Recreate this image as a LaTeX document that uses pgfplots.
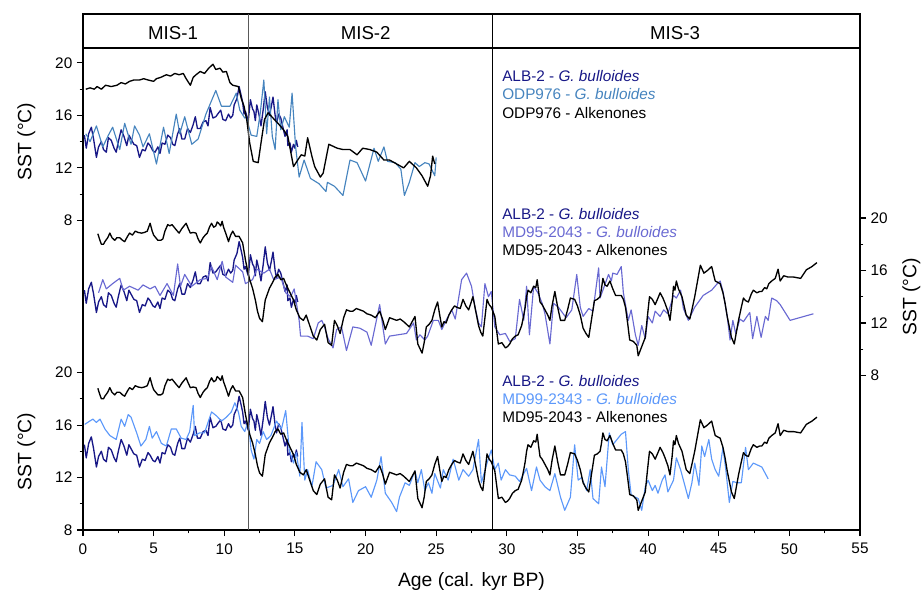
\documentclass[border=0pt]{standalone}
\usepackage{fontspec}
\setmainfont{Liberation Sans}
\usepackage{pgfplots}
\usepackage{pgfplotstable}
\pgfplotsset{compat=1.18}

\definecolor{albnavy}{RGB}{24,24,135}
\definecolor{odpblue}{RGB}{70,132,190}
\definecolor{mdslate}{RGB}{105,105,210}
\definecolor{mdlight}{RGB}{92,152,250}

% ALB-2 G. bulloides (same record in all three panels)
\pgfplotstableread{
x y
0.1 14.5
0.23 13.5
0.4 14.6
0.59 15.1
0.75 14.2
0.95 12.8
1.1 13.6
1.3 14.0
1.45 13.4
1.65 13.2
1.8 14.3
2.0 14.1
2.2 13.5
2.35 13.2
2.5 14.0
2.7 14.9
2.9 14.4
3.1 13.7
3.25 14.5
3.4 14.2
3.6 13.8
3.8 13.7
4.0 12.8
4.2 13.4
4.4 13.3
4.6 13.9
4.75 13.7
4.95 13.3
5.1 13.2
5.3 13.6
5.45 13.1
5.6 13.9
5.8 13.8
6.0 14.5
6.2 14.3
6.35 13.8
6.5 13.7
6.7 14.6
6.85 15.0
7.0 14.2
7.2 14.2
7.4 15.0
7.6 14.7
7.8 15.3
7.95 15.9
8.1 15.0
8.3 15.0
8.5 15.5
8.7 15.6
8.85 15.2
9.0 16.6
9.2 15.8
9.4 15.9
9.6 16.2
9.75 16.4
9.9 15.7
10.1 15.6
10.3 16.1
10.45 15.8
10.6 16.0
10.7 16.8
10.9 17.3
11.05 18.2
11.2 17.5
11.3 17.0
11.4 16.1
11.5 16.3
11.7 15.6
11.85 17.2
12.0 16.5
12.1 16.3
12.2 15.6
12.3 16.8
12.45 16.1
12.6 15.2
12.75 16.4
12.9 17.8
13.05 16.6
13.2 16.0
13.35 16.8
13.45 17.4
13.6 16.0
13.7 15.4
13.85 16.1
14.0 15.8
14.15 15.1
14.3 14.4
14.45 14.9
14.5 13.7
14.65 13.9
14.75 13.2
14.9 13.8
15.0 13.5
15.1 14.1
15.2 13.6
}\albtwo

% MD95-2043 alkenones (middle and bottom panels)
\pgfplotstableread{
x y
1.05 18.8
1.2 18.3
1.3 18.0
1.45 18.0
1.55 18.2
1.75 18.5
1.9 18.85
2.05 18.5
2.25 18.3
2.4 18.5
2.6 18.5
2.8 18.3
2.95 18.2
3.15 18.6
3.3 18.85
3.5 18.7
3.7 19.0
3.9 18.9
4.15 18.85
4.35 18.9
4.55 19.0
4.75 19.6
4.9 19.0
5.0 18.7
5.15 18.5
5.3 18.3
5.5 18.3
5.65 18.4
5.8 19.0
6.0 19.5
6.15 19.4
6.3 19.5
6.45 19.3
6.6 19.1
6.8 18.85
7.0 19.2
7.15 19.4
7.3 19.6
7.45 19.2
7.6 18.85
7.8 18.9
8.0 18.85
8.15 18.4
8.3 18.1
8.5 18.5
8.65 18.7
8.8 18.85
8.95 19.3
9.1 19.6
9.25 19.3
9.4 19.4
9.5 19.7
9.6 19.6
9.75 19.4
9.85 19.75
9.95 19.3
10.1 18.85
10.3 18.2
10.45 18.7
10.6 19.0
10.8 18.6
11.05 18.6
11.3 18.1
11.5 16.8
11.65 16.0
11.8 15.3
12.0 14.65
12.2 13.75
12.35 12.9
12.5 12.35
12.7 12.1
12.9 13.75
13.05 14.2
13.2 14.65
13.45 15.15
13.6 15.5
13.8 15.7
14.0 15.3
14.2 15.4
14.35 15.0
14.5 14.65
14.7 14.2
14.9 13.75
15.1 13.0
15.35 12.4
15.6 12.2
15.8 12.6
16.05 11.8
16.3 11.0
16.55 10.7
16.8 11.5
17.1 11.9
17.35 10.5
17.6 10.3
17.8 12.2
18.0 11.8
18.2 11.2
18.45 12.4
18.65 13.0
18.9 12.9
19.1 12.9
19.35 13.1
19.6 13.0
19.85 12.9
20.1 12.7
20.4 12.6
20.7 12.4
21.0 12.9
21.2 12.3
21.4 11.5
21.7 12.4
21.95 12.3
22.2 12.2
22.45 12.3
22.7 12.1
22.9 11.9
23.1 11.7
23.3 12.1
23.5 12.5
23.7 10.4
24.0 9.7
24.15 10.5
24.3 11.7
24.5 11.9
24.7 12.2
24.9 13.0
25.1 13.6
25.25 12.6
25.4 11.7
25.55 12.1
25.7 12.0
25.9 12.6
26.1 13.0
26.3 13.3
26.45 13.2
26.7 13.1
26.9 13.8
27.1 13.3
27.3 13.0
27.45 13.5
27.6 14.0
27.8 12.9
28.0 11.8
28.15 11.3
28.3 11.0
28.45 12.4
28.6 13.8
28.75 13.4
28.9 13.2
29.15 12.5
29.4 10.4
29.65 10.5
29.9 10.1
30.05 10.2
30.2 10.4
30.4 10.8
30.6 11.0
30.8 11.1
31.05 11.8
31.2 12.6
31.3 13.2
31.4 14.0
31.5 14.5
31.7 14.3
31.9 14.8
32.05 14.7
32.15 15.3
32.25 14.4
32.35 13.6
32.5 13.4
32.7 13.0
32.9 12.6
33.05 12.2
33.2 13.3
33.4 14.4
33.6 13.2
33.8 12.2
34.1 12.2
34.3 13.0
34.5 13.9
34.8 13.8
35.0 13.3
35.2 12.6
35.4 11.6
35.6 11.2
35.8 10.9
36.0 12.3
36.2 13.7
36.4 13.8
36.6 14.0
36.7 14.6
36.8 15.4
36.95 14.9
37.1 14.8
37.3 15.2
37.5 14.6
37.7 14.1
38.1 14.1
38.25 13.8
38.4 13.2
38.55 12.0
38.7 10.7
38.95 10.6
39.2 10.3
39.3 9.5
39.55 10.2
39.8 10.9
39.95 12.5
40.1 14.0
40.3 13.8
40.5 13.4
40.7 13.9
40.85 14.3
41.05 13.9
41.2 13.5
41.4 12.9
41.55 12.2
41.7 13.6
41.8 14.8
41.9 14.5
42.0 15.2
42.15 14.6
42.4 14.0
42.55 13.3
42.7 12.6
42.95 12.3
43.1 13.0
43.3 14.0
43.5 15.2
43.7 16.4
43.95 15.8
44.2 16.0
44.5 16.3
44.75 15.2
45.1 15.0
45.3 14.3
45.45 13.5
45.6 12.5
45.9 10.9
46.1 10.4
46.25 11.3
46.4 12.2
46.6 13.2
46.75 13.9
46.9 13.7
47.1 13.6
47.3 14.2
47.45 14.5
47.7 14.3
47.9 14.4
48.05 14.4
48.25 14.7
48.4 14.6
48.55 15.0
48.75 15.2
49.0 15.4
49.2 16.1
49.35 15.2
49.6 15.6
49.9 15.5
50.3 15.5
50.8 15.4
51.2 16.05
51.6 16.3
51.95 16.6
}\mdalk

% ODP976 alkenones
\pgfplotstableread{
x y
0.2 18.0
0.5 18.1
0.8 18.0
1.0 18.2
1.3 18.0
1.6 18.3
2.0 18.2
2.4 18.3
2.7 18.5
3.0 18.4
3.3 18.6
3.6 18.7
4.0 18.7
4.3 18.8
4.6 18.7
5.0 18.6
5.2 18.8
5.5 18.9
5.9 19.1
6.2 19.0
6.5 19.2
6.8 19.1
7.1 19.2
7.3 18.8
7.6 18.3
7.8 18.9
8.0 19.1
8.3 19.35
8.6 19.2
8.9 19.6
9.2 19.9
9.4 19.5
9.7 19.6
9.9 19.3
10.15 19.35
10.4 18.5
10.6 18.3
11.0 18.2
11.2 17.3
11.4 16.7
11.6 15.6
11.8 13.9
12.05 12.5
12.4 12.4
12.6 13.9
12.85 15.7
13.1 16.2
13.45 15.8
13.8 15.4
14.2 14.9
14.5 14.4
14.9 12.1
15.2 12.6
15.45 13.0
15.7 12.9
15.9 14.3
16.2 12.9
16.4 12.1
16.8 11.3
17.0 11.6
17.4 13.8
18.0 13.5
18.4 13.4
18.9 13.4
19.4 13.0
19.8 13.5
20.3 13.4
20.8 13.2
21.3 12.6
21.7 12.6
22.2 12.3
22.7 12.0
23.1 12.5
23.6 12.0
24.0 11.4
24.4 10.6
24.6 11.4
24.75 12.9
24.9 12.3
}\odpalk

% ODP976 G. bulloides
\pgfplotstableread{
x y
0.2 14.6
0.5 14.0
0.95 15.2
1.4 13.6
1.8 14.5
2.1 15.1
2.6 13.4
2.95 15.4
3.4 13.8
3.65 15.2
4.0 14.5
4.25 13.6
4.7 14.6
5.2 12.3
5.7 15.1
6.1 13.1
6.6 16.1
6.85 14.6
7.2 15.9
7.7 13.8
8.15 14.2
8.7 16.1
9.4 17.9
9.8 16.7
10.4 16.7
10.85 17.7
11.1 16.4
11.45 15.8
11.55 15.9
11.9 14.5
12.3 14.4
12.55 16.2
12.8 18.7
13.0 14.6
13.2 17.4
13.4 14.4
13.6 13.4
13.8 17.2
14.0 14.9
14.25 15.9
14.6 15.1
14.8 17.7
15.05 13.6
15.3 11.3
15.65 12.6
16.1 11.2
16.7 10.8
17.2 10.2
17.3 10.9
17.8 10.6
18.4 9.9
18.9 12.6
19.4 12.4
20.0 11.0
20.6 13.5
20.9 12.5
21.3 13.6
21.55 12.5
22.1 12.4
22.5 11.9
22.75 9.9
23.1 10.9
23.5 12.4
23.8 12.1
24.2 12.4
24.5 12.3
24.9 11.4
25.0 12.8
}\odpbul

% MD95-2043 G. bulloides
\pgfplotstableread{
x y
1.1 14.3
1.4 15.3
1.65 14.6
2.1 15.0
2.6 15.4
2.85 14.5
3.3 14.8
3.9 14.5
4.25 14.9
4.75 14.6
5.1 14.8
5.45 14.1
5.95 15.0
6.4 14.1
6.7 16.5
6.9 14.8
7.2 15.7
7.7 14.8
8.3 15.3
8.8 15.4
9.1 16.3
9.5 15.3
9.85 16.7
10.1 15.5
10.6 15.1
10.8 16.4
11.3 15.9
11.5 15.0
12.0 15.3
12.3 16.1
12.8 15.8
13.2 16.1
13.5 15.3
14.0 15.5
14.35 14.3
14.7 14.0
14.95 14.6
15.3 12.2
15.4 11.0
15.9 11.0
16.3 10.8
16.65 12.0
16.9 12.2
17.1 11.7
17.35 10.8
17.7 10.1
17.95 11.5
18.3 11.7
18.65 9.9
19.1 11.7
19.6 11.6
20.1 11.3
20.4 10.3
21.0 13.4
21.4 10.4
21.7 11.0
22.9 11.2
23.4 12.0
23.6 10.7
23.85 11.1
24.2 10.7
24.4 11.0
24.8 12.2
25.15 12.2
25.4 11.5
25.7 12.2
26.1 13.0
26.35 12.3
26.8 15.3
27.15 15.8
27.5 14.8
27.75 13.2
28.0 12.0
28.2 11.7
28.45 15.0
28.7 14.0
28.9 14.4
29.15 11.7
29.5 11.1
29.9 11.2
30.2 10.6
30.6 10.8
30.9 13.8
31.2 12.2
31.4 14.8
31.6 11.1
31.9 14.8
32.2 14.3
32.5 13.5
32.7 12.7
33.05 10.4
33.3 13.5
33.65 13.2
34.2 12.4
34.6 13.0
34.95 15.7
35.2 13.2
35.4 12.5
35.8 13.1
36.1 12.9
36.5 16.2
36.6 13.9
36.8 14.5
37.2 15.7
37.4 15.2
37.5 15.8
37.8 15.7
38.1 16.3
38.25 14.3
38.6 12.2
38.8 13.0
39.1 11.1
39.3 10.3
39.55 11.8
39.8 10.8
40.0 12.5
40.3 12.0
40.5 12.9
40.85 12.5
41.1 13.0
41.4 12.7
41.8 14.1
42.0 13.9
42.3 14.5
42.5 13.1
42.85 12.2
43.3 13.2
43.9 14.1
44.5 14.5
44.9 15.0
45.1 15.2
45.3 14.4
45.6 12.5
45.8 10.7
46.0 12.2
46.2 11.2
46.5 12.3
46.75 12.1
47.0 12.5
47.2 12.8
47.4 10.8
47.7 12.5
48.0 10.9
48.3 12.5
48.5 12.2
48.75 13.9
49.1 13.7
49.35 13.4
50.05 12.2
51.7 12.7
}\mdbul

% MD99-2343 G. bulloides
\pgfplotstableread{
x y
0.12 16.05
0.47 16.3
0.7 16.45
0.95 16.2
1.2 16.45
1.55 15.7
1.9 15.2
2.35 14.9
2.7 16.45
2.95 15.9
3.2 16.8
3.4 16.6
3.8 15.4
4.1 14.4
4.45 14.9
4.7 15.9
4.9 15.0
5.2 15.5
5.55 14.6
5.9 14.4
6.25 15.7
6.6 15.7
6.95 15.0
7.3 14.9
7.55 15.5
7.8 17.5
7.9 15.2
8.25 15.4
8.6 15.4
9.1 17.0
9.45 16.7
9.8 16.3
10.15 16.6
10.5 17.0
10.75 17.7
11.0 17.0
11.2 15.9
11.45 15.5
11.7 16.3
11.9 14.1
12.1 13.4
12.3 14.9
12.5 14.6
12.75 15.5
13.0 14.9
13.3 15.2
13.7 16.3
14.05 15.7
14.35 17.1
14.6 14.1
14.9 13.1
15.1 13.9
15.35 12.1
15.5 16.2
15.7 11.8
15.9 12.6
16.2 11.3
16.5 13.2
16.9 12.6
17.2 11.2
17.7 11.4
18.1 12.6
18.4 11.3
18.8 11.9
19.1 10.1
19.5 11.0
20.0 11.3
20.4 10.5
20.8 11.8
21.1 13.6
21.4 10.8
21.85 10.1
22.2 9.4
22.4 10.5
22.8 11.6
23.1 11.4
23.5 12.5
23.7 11.6
23.95 12.6
24.2 11.0
24.45 11.6
24.7 10.8
24.9 12.3
25.3 11.2
25.5 12.6
25.85 11.8
26.2 13.4
26.6 11.8
26.9 12.6
27.3 12.1
27.6 12.6
28.0 14.9
28.2 11.6
28.6 13.1
28.9 14.1
29.15 12.6
29.4 13.1
29.6 11.8
29.9 12.6
30.2 12.2
30.6 12.1
30.9 11.7
31.4 12.7
31.75 11.0
32.1 12.8
32.35 11.8
32.7 11.3
33.05 11.0
33.4 12.3
33.8 10.5
34.1 9.5
34.5 10.5
34.8 14.5
35.05 11.8
35.3 12.0
35.65 11.0
35.9 12.6
36.1 10.4
36.5 10.0
36.7 12.8
36.95 11.3
37.25 15.4
37.5 14.5
37.8 14.9
38.1 15.3
38.4 15.5
38.6 12.6
38.8 10.7
39.1 10.5
39.3 10.4
39.55 9.5
39.8 11.3
40.0 11.8
40.3 11.0
40.5 11.4
40.7 10.8
41.0 11.8
41.2 12.2
41.4 10.9
41.8 11.8
42.0 13.5
42.3 12.6
42.5 11.8
42.85 10.4
43.1 11.6
43.3 13.1
43.6 11.4
43.8 14.4
44.0 13.6
44.3 14.9
44.5 13.4
44.75 12.6
45.0 12.1
45.3 14.3
45.5 12.6
45.75 10.1
46.0 11.7
46.3 11.6
46.6 11.6
46.9 14.3
47.1 12.6
47.45 13.1
48.05 12.8
48.5 11.9
}\mdninenine

\pgfplotsset{
  sstpanel/.style={
    scale only axis, width=582.75pt, height=361.5pt,
    at={(0,0)}, anchor=south west,
    xmin=0, xmax=55,
    ytick={8,12,16,20}, minor y tick num=1,
    tick align=outside,
    major tick length=4.5pt, minor tick length=2.5pt,
    tick style={black, line width=0.8pt},
    axis line style={line width=1pt},
    tick label style={font=\fontsize{11.5}{13}\selectfont},
    label style={font=\fontsize{14.5}{16}\selectfont},
    /pgf/number format/assume math mode=true,
    every axis plot/.append style={line width=0.85pt, line join=round},
  },
}

\newcommand{\legfont}{\fontsize{11.5}{13}\selectfont}

\begin{document}
\begin{tikzpicture}
\path[use as bounding box] (-62.25pt,-49.5pt) rectangle (630.75pt,397.5pt);

% bottom panel: ALB-2, MD99-2343, MD95-2043 alkenones
\begin{axis}[sstpanel,
  ymin=8, ymax=44.74,
  xtick={0,5,...,55}, minor x tick num=1,
  xtick pos=left, ytick pos=left,
  xticklabel shift=2pt,
  xlabel={Age (cal. kyr BP)}, xlabel shift=7pt,
  ylabel={SST (°C)}, ylabel shift=8pt,
  ylabel style={at={(ticklabel cs:0.163)}},
]
\addplot[albnavy, line width=1pt] table {\albtwo};
\addplot[mdlight] table {\mdninenine};
\addplot[black, line width=1pt] table {\mdalk};
\end{axis}

% top panel: ALB-2, ODP976
\begin{axis}[sstpanel,
  ymin=-15.6, ymax=21.14,
  axis x line=none, axis y line*=left,
  ylabel={SST (°C)}, ylabel shift=8pt,
  ylabel style={at={(ticklabel cs:0.806)}},
]
\addplot[albnavy, line width=1pt] table {\albtwo};
\addplot[odpblue] table {\odpbul};
\addplot[black, line width=1pt] table {\odpalk};
\end{axis}

% middle panel: ALB-2, MD95-2043
\begin{axis}[sstpanel,
  ymin=-3.78, ymax=32.96,
  axis x line=none, axis y line*=right,
  ylabel={SST (°C)}, ylabel shift=4pt,
  ylabel style={at={(ticklabel cs:0.484)}},
]
\addplot[albnavy, line width=1pt] table {\albtwo};
\addplot[mdslate] table {\mdbul};
\addplot[black, line width=1pt] table {\mdalk};
\end{axis}

% MIS header box and boundaries
\draw[line width=1pt] (0,361.5pt) rectangle (582.75pt,387pt);
\draw[line width=0.6pt, black!65] (124.1pt,0) -- (124.1pt,387pt);
\draw[line width=0.6pt, black] (307.4pt,0) -- (307.4pt,387pt);
\node[anchor=base, font=\fontsize{14}{16}\selectfont] at (67.5pt,367.5pt) {MIS-1};
\node[anchor=base, font=\fontsize{14}{16}\selectfont] at (212pt,367.5pt) {MIS-2};
\node[anchor=base, font=\fontsize{14}{16}\selectfont] at (444pt,367.5pt) {MIS-3};

% legends
\node[anchor=base west, inner sep=0, albnavy, font=\legfont] at (314.25pt,336.2pt) {ALB-2 - \textit{G. bulloides}};
\node[anchor=base west, inner sep=0, odpblue, font=\legfont] at (314.25pt,322.5pt) {ODP976 - \textit{G. bulloides}};
\node[anchor=base west, inner sep=0, black, font=\legfont] at (314.25pt,308.8pt) {ODP976 - Alkenones};

\node[anchor=base west, inner sep=0, albnavy, font=\legfont] at (314.25pt,233pt) {ALB-2 - \textit{G. bulloides}};
\node[anchor=base west, inner sep=0, mdslate, font=\legfont] at (314.25pt,219.5pt) {MD95-2043 - \textit{G. bulloides}};
\node[anchor=base west, inner sep=0, black, font=\legfont] at (314.25pt,206.2pt) {MD95-2043 - Alkenones};

\node[anchor=base west, inner sep=0, albnavy, font=\legfont] at (314.25pt,107.5pt) {ALB-2 - \textit{G. bulloides}};
\node[anchor=base west, inner sep=0, mdlight, font=\legfont] at (314.25pt,93.75pt) {MD99-2343 - \textit{G. bulloides}};
\node[anchor=base west, inner sep=0, black, font=\legfont] at (314.25pt,80.5pt) {MD95-2043 - Alkenones};
\end{tikzpicture}
\end{document}
